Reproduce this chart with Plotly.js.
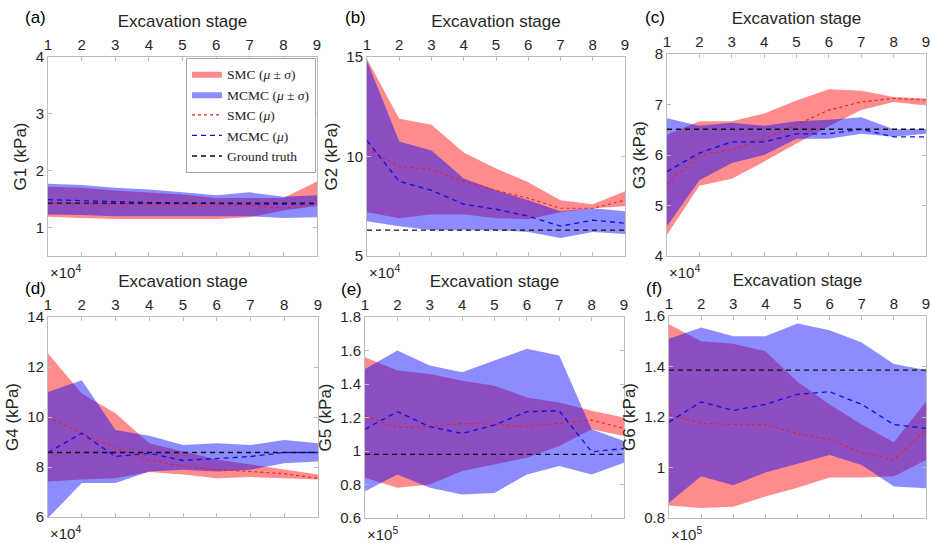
<!DOCTYPE html>
<html>
<head>
<meta charset="utf-8">
<script src="https://cdn.plot.ly/plotly-3.0.1.min.js"></script>
<style>html,body{margin:0;padding:0;background:#fff;} #chart{width:931px;height:543px;}</style>
</head>
<body>
<div id="chart"></div>
<script>
// ---------- DATA ----------
var stages = [1, 2, 3, 4, 5, 6, 7, 8, 9];
var stageLabels = ['1', '2', '3', '4', '5', '6', '7', '8', '9'];

// G1 (x10^4 kPa)
var g1SmcUp   = [1.72, 1.70, 1.65, 1.62, 1.58, 1.52, 1.52, 1.52, 1.81];
var g1SmcLo   = [1.19, 1.17, 1.15, 1.15, 1.15, 1.15, 1.18, 1.30, 1.38];
var g1McmcUp  = [1.77, 1.75, 1.70, 1.67, 1.62, 1.57, 1.62, 1.54, 1.57];
var g1McmcLo  = [1.23, 1.22, 1.20, 1.20, 1.20, 1.20, 1.20, 1.17, 1.18];
var g1SmcMu   = [1.42, 1.42, 1.41, 1.41, 1.40, 1.39, 1.39, 1.34, 1.42];
var g1McmcMu  = [1.49, 1.47, 1.45, 1.44, 1.43, 1.42, 1.42, 1.41, 1.42];
var g1Truth   = [1.43, 1.43, 1.43, 1.43, 1.43, 1.43, 1.43, 1.43, 1.43];

// G2 (x10^4 kPa)
var g2SmcUp   = [14.9, 11.9, 11.6, 10.2, 9.4, 8.7, 7.8, 7.6, 8.25];
var g2SmcLo   = [7.2, 6.9, 7.1, 7.1, 6.9, 6.85, 7.2, 7.4, 7.5];
var g2McmcUp  = [14.8, 10.75, 10.3, 8.9, 8.3, 7.8, 7.25, 7.4, 7.25];
var g2McmcLo  = [6.75, 6.5, 6.3, 6.3, 6.3, 6.2, 5.9, 6.2, 6.1];
var g2SmcMu   = [10.4, 9.5, 9.35, 8.75, 8.3, 7.9, 7.4, 7.4, 7.8];
var g2McmcMu  = [10.8, 8.75, 8.3, 7.6, 7.35, 7.0, 6.5, 6.8, 6.65];
var g2Truth   = [6.3, 6.3, 6.3, 6.3, 6.3, 6.3, 6.3, 6.3, 6.3];

// G3 (x10^4 kPa)
var g3SmcUp   = [6.40, 6.67, 6.67, 6.82, 7.08, 7.30, 7.27, 7.15, 7.12];
var g3SmcLo   = [4.42, 5.39, 5.53, 5.87, 6.23, 6.57, 6.89, 7.05, 6.98];
var g3McmcUp  = [6.73, 6.58, 6.64, 6.58, 6.67, 6.70, 6.75, 6.51, 6.51];
var g3McmcLo  = [4.59, 5.50, 5.84, 6.00, 6.32, 6.32, 6.42, 6.36, 6.42];
var g3SmcMu   = [5.43, 6.00, 6.10, 6.32, 6.60, 6.89, 7.05, 7.12, 7.09];
var g3McmcMu  = [5.67, 6.04, 6.26, 6.26, 6.42, 6.42, 6.51, 6.36, 6.36];
var g3Truth   = [6.51, 6.51, 6.51, 6.51, 6.51, 6.51, 6.51, 6.51, 6.51];

// G4 (x10^4 kPa)
var g4SmcUp   = [12.54, 10.94, 10.15, 8.95, 8.62, 8.3, 8.1, 7.9, 7.7];
var g4SmcLo   = [7.42, 7.5, 7.55, 7.8, 7.7, 7.55, 7.6, 7.55, 7.5];
var g4McmcUp  = [11.0, 11.47, 9.48, 9.25, 8.88, 8.95, 8.88, 9.08, 8.95];
var g4McmcLo  = [5.96, 7.36, 7.36, 7.82, 7.89, 7.82, 7.89, 8.15, 8.22];
var g4SmcMu   = [10.0, 9.35, 8.75, 8.29, 8.02, 7.9, 7.82, 7.73, 7.55];
var g4McmcMu  = [8.58, 9.35, 8.42, 8.55, 8.26, 8.35, 8.42, 8.58, 8.58];
var g4Truth   = [8.58, 8.58, 8.58, 8.58, 8.58, 8.58, 8.58, 8.58, 8.58];

// G5 (x10^5 kPa)
var g5SmcUp   = [1.56, 1.48, 1.46, 1.42, 1.39, 1.32, 1.29, 1.24, 1.20];
var g5SmcLo   = [0.84, 0.78, 0.80, 0.88, 0.92, 0.96, 1.03, 1.13, 1.09];
var g5McmcUp  = [1.49, 1.60, 1.51, 1.47, 1.54, 1.61, 1.57, 1.13, 1.06];
var g5McmcLo  = [0.76, 0.86, 0.78, 0.74, 0.75, 0.86, 0.91, 0.86, 0.93];
var g5SmcMu   = [1.21, 1.14, 1.145, 1.165, 1.16, 1.145, 1.165, 1.185, 1.135];
var g5McmcMu  = [1.13, 1.235, 1.145, 1.105, 1.155, 1.235, 1.24, 0.995, 1.015];
var g5Truth   = [0.98, 0.98, 0.98, 0.98, 0.98, 0.98, 0.98, 0.98, 0.98];

// G6 (x10^5 kPa)
var g6SmcUp   = [1.567, 1.50, 1.49, 1.46, 1.34, 1.25, 1.17, 1.10, 1.26];
var g6SmcLo   = [0.85, 0.84, 0.845, 0.885, 0.92, 0.96, 0.96, 0.965, 1.03];
var g6McmcUp  = [1.51, 1.554, 1.52, 1.52, 1.57, 1.544, 1.495, 1.41, 1.386];
var g6McmcLo  = [0.86, 0.965, 0.93, 0.98, 1.016, 1.05, 1.01, 0.925, 0.918];
var g6SmcMu   = [1.21, 1.175, 1.17, 1.17, 1.135, 1.11, 1.06, 1.03, 1.15];
var g6McmcMu  = [1.18, 1.26, 1.226, 1.25, 1.29, 1.30, 1.25, 1.17, 1.155];
var g6Truth   = [1.386, 1.386, 1.386, 1.386, 1.386, 1.386, 1.386, 1.386, 1.386];

var yTicks1 = [1, 2, 3, 4];            var yLabels1 = ['1', '2', '3', '4'];
var yTicks2 = [5, 10, 15];             var yLabels2 = ['5', '10', '15'];
var yTicks3 = [4, 5, 6, 7, 8];         var yLabels3 = ['4', '5', '6', '7', '8'];
var yTicks4 = [6, 8, 10, 12, 14];      var yLabels4 = ['6', '8', '10', '12', '14'];
var yTicks5 = [0.6, 0.8, 1, 1.2, 1.4, 1.6, 1.8]; var yLabels5 = ['0.6', '0.8', '1', '1.2', '1.4', '1.6', '1.8'];
var yTicks6 = [0.8, 1, 1.2, 1.4, 1.6]; var yLabels6 = ['0.8', '1', '1.2', '1.4', '1.6'];

var panelNames = ['(a)', '(b)', '(c)', '(d)', '(e)', '(f)'];
var yTitles = ['G1 (kPa)', 'G2 (kPa)', 'G3 (kPa)', 'G4 (kPa)', 'G5 (kPa)', 'G6 (kPa)'];
var exponentLabels = ['×10<sup>4</sup>', '×10<sup>4</sup>', '×10<sup>4</sup>', '×10<sup>4</sup>', '×10<sup>5</sup>', '×10<sup>5</sup>'];
var legendNames = ['SMC (<i>μ</i> ± <i>σ</i>)', 'MCMC (<i>μ</i> ± <i>σ</i>)', 'SMC (<i>μ</i>)', 'MCMC (<i>μ</i>)', 'Ground truth'];

// ---------- LAYOUT (pixel boxes) ----------
var W = 931, H = 543;
function px(x) { return x / W; }
function py(y) { return 1 - y / H; }
// [left, right, top, bottom] of each plot box in pixels
var boxes = [
  [48, 317, 57, 256],
  [367, 625, 57, 256],
  [667, 926, 54, 256],
  [48, 318, 317, 517],
  [365, 624, 317, 518],
  [669, 926, 316, 518]
];
var yRanges = [[0.5, 4], [5, 15], [4, 8], [6, 14], [0.6, 1.8], [0.8, 1.6]];
var labelPos = [[35, 17], [355, 17], [655, 17], [35, 288], [351, 289], [654, 288]];

var panels = [
  [g1SmcUp, g1SmcLo, g1McmcUp, g1McmcLo, g1SmcMu, g1McmcMu, g1Truth, yTicks1, yLabels1],
  [g2SmcUp, g2SmcLo, g2McmcUp, g2McmcLo, g2SmcMu, g2McmcMu, g2Truth, yTicks2, yLabels2],
  [g3SmcUp, g3SmcLo, g3McmcUp, g3McmcLo, g3SmcMu, g3McmcMu, g3Truth, yTicks3, yLabels3],
  [g4SmcUp, g4SmcLo, g4McmcUp, g4McmcLo, g4SmcMu, g4McmcMu, g4Truth, yTicks4, yLabels4],
  [g5SmcUp, g5SmcLo, g5McmcUp, g5McmcLo, g5SmcMu, g5McmcMu, g5Truth, yTicks5, yLabels5],
  [g6SmcUp, g6SmcLo, g6McmcUp, g6McmcLo, g6SmcMu, g6McmcMu, g6Truth, yTicks6, yLabels6]
];

var FONT = 'Liberation Sans, Arial, sans-serif';
var TXT = '#262626';
var AXC = '#bdbdbd';

var traces = [];
var layout = {
  width: W, height: H,
  margin: {l: 0, r: 0, t: 0, b: 0},
  paper_bgcolor: '#fff', plot_bgcolor: '#fff',
  font: {family: FONT, color: TXT, size: 15},
  showlegend: true,
  legend: {
    x: px(316), xanchor: 'right', y: py(57.5), yanchor: 'top',
    bgcolor: '#fff', bordercolor: '#a8a8a8', borderwidth: 1,
    font: {family: 'Liberation Serif, DejaVu Serif, serif', size: 13.5, color: '#222'},
    tracegroupgap: 0, itemwidth: 30
  },
  annotations: []
};

var revStages = stages.slice().reverse();
function band(up, lo) { return {x: stages.concat(revStages), y: up.concat(lo.slice().reverse())}; }

panels.forEach(function (p, i) {
  var n = i + 1;
  var xa = 'x' + (n === 1 ? '' : n), ya = 'y' + (n === 1 ? '' : n);
  var b = boxes[i];
  var leg = (i === 0);
  var smcB = band(p[0], p[1]), mcB = band(p[2], p[3]);
  traces.push({type: 'scatter', mode: 'lines', x: smcB.x, y: smcB.y, fill: 'toself',
    fillcolor: 'rgba(255,0,0,0.45)', line: {width: 0, color: 'rgba(255,0,0,0)'},
    name: legendNames[0], showlegend: leg, xaxis: xa, yaxis: ya, hoverinfo: 'skip'});
  traces.push({type: 'scatter', mode: 'lines', x: mcB.x, y: mcB.y, fill: 'toself',
    fillcolor: 'rgba(0,0,255,0.45)', line: {width: 0, color: 'rgba(0,0,255,0)'},
    name: legendNames[1], showlegend: leg, xaxis: xa, yaxis: ya, hoverinfo: 'skip'});
  traces.push({type: 'scatter', mode: 'lines', x: stages, y: p[4],
    line: {color: '#e8201e', width: 1.1, dash: '3px,3px'},
    name: legendNames[2], showlegend: leg, xaxis: xa, yaxis: ya});
  traces.push({type: 'scatter', mode: 'lines', x: stages, y: p[5],
    line: {color: '#1010e0', width: 1.3, dash: '5px,4px'},
    name: legendNames[3], showlegend: leg, xaxis: xa, yaxis: ya});
  traces.push({type: 'scatter', mode: 'lines', x: stages, y: p[6],
    line: {color: '#111', width: 1.3, dash: '5px,4px'},
    name: legendNames[4], showlegend: leg, xaxis: xa, yaxis: ya});

  layout['xaxis' + (n === 1 ? '' : n)] = {
    domain: [px(b[0]), px(b[1])], anchor: ya, side: 'top', range: [1, 9],
    tickmode: 'array', tickvals: stages, ticktext: stageLabels, ticklabeloverflow: 'allow',
    ticks: 'inside', ticklen: 4, tickcolor: AXC, showline: true, linecolor: AXC, linewidth: 1,
    mirror: 'ticks', showgrid: false, zeroline: false,
    tickfont: {size: 15, color: TXT, family: FONT},
    title: {text: 'Excavation stage', font: {size: 17, color: TXT, family: FONT}, standoff: 4}
  };
  layout['yaxis' + (n === 1 ? '' : n)] = {
    domain: [py(b[3]), py(b[2])], anchor: xa, range: yRanges[i],
    tickmode: 'array', tickvals: p[7], ticktext: p[8], ticklabeloverflow: 'allow',
    ticks: 'inside', ticklen: 4, tickcolor: AXC, showline: true, linecolor: AXC, linewidth: 1,
    mirror: 'ticks', showgrid: false, zeroline: false,
    tickfont: {size: 15, color: TXT, family: FONT},
    title: {text: yTitles[i], font: {size: 17, color: TXT, family: FONT}, standoff: 4}
  };

  layout.annotations.push({xref: 'paper', yref: 'paper', x: px(labelPos[i][0]), y: py(labelPos[i][1]),
    text: panelNames[i], showarrow: false, xanchor: 'center', yanchor: 'middle',
    font: {size: 17, color: '#000', family: FONT}});
  layout.annotations.push({xref: 'paper', yref: 'paper', x: px(b[0]), y: py(b[3] + 4),
    text: exponentLabels[i], showarrow: false, xanchor: 'left', yanchor: 'top',
    font: {size: 15, color: TXT, family: FONT}});
});

Plotly.newPlot('chart', traces, layout, {displayModeBar: false, staticPlot: true});
</script>
</body>
</html>
